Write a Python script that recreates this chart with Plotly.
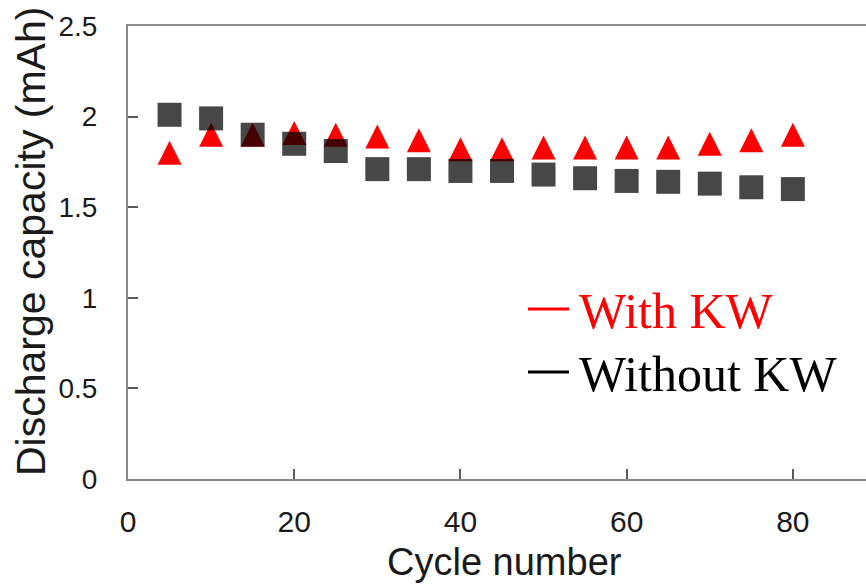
import plotly.graph_objects as go

# Cycle numbers at which discharge capacity was recorded
cycles = [5, 10, 15, 20, 25, 30, 35, 40, 45, 50, 55, 60, 65, 70, 75, 80]

# Discharge capacity (mAh)
with_kw = [1.80, 1.90, 1.90, 1.91, 1.90, 1.89, 1.87, 1.82, 1.82, 1.83, 1.83, 1.83, 1.83, 1.85, 1.87, 1.90]
without_kw = [2.01, 1.99, 1.90, 1.85, 1.81, 1.71, 1.71, 1.70, 1.70, 1.68, 1.66, 1.645, 1.64, 1.63, 1.61, 1.60]

x_ticks = [0, 20, 40, 60, 80]
y_ticks = [0, 0.5, 1, 1.5, 2, 2.5]
y_tick_text = ["0", "0.5", "1", "1.5", "2", "2.5"]

W, H = 866, 587
M_L, M_R, M_T, M_B = 128, 0, 26, 108
X_MAX = 88.8

SANS = "Liberation Sans, Arial, sans-serif"
SERIF = "Liberation Serif, Times New Roman, serif"
TEXT = "#1a1a1a"

fig = go.Figure()

# Red triangles (drawn first so the translucent squares sit on top)
fig.add_trace(go.Scatter(
    x=cycles, y=with_kw, mode="markers", name="With KW",
    marker=dict(symbol="arrow-down", angle=180, standoff=12, size=24,
                color="#FF0000", line=dict(width=0)),
    showlegend=False,
))

# Dark translucent squares
fig.add_trace(go.Scatter(
    x=cycles, y=without_kw, mode="markers", name="Without KW",
    marker=dict(symbol="square", size=24, color="rgba(0,0,0,0.72)",
                line=dict(width=0)),
    showlegend=False,
))

axis_line = "#8a8a8a"
tick_col = "#5a5a5a"

fig.update_xaxes(
    range=[0, X_MAX], tickvals=x_ticks, ticktext=[str(v) for v in x_ticks],
    showgrid=False, zeroline=False, showline=True, linecolor=axis_line,
    linewidth=2, mirror=True, ticks="inside", ticklen=10, tickwidth=2,
    tickcolor=tick_col, ticklabelstandoff=15,
    tickfont=dict(family=SANS, size=30, color=TEXT),
)

fig.update_yaxes(
    range=[0, 2.5], tickvals=y_ticks, ticktext=y_tick_text,
    showgrid=False, zeroline=False, showline=True, linecolor=axis_line,
    linewidth=2, mirror=False, ticks="inside", ticklen=10, tickwidth=2,
    tickcolor=tick_col, ticklabelstandoff=23,
    tickfont=dict(family=SANS, size=28, color=TEXT),
)

plot_w = W - M_L - M_R
plot_h = H - M_T - M_B


def px_to_paper(px, py):
    return (px - M_L) / plot_w, (H - M_B - py) / plot_h


# Axis titles
tx, ty = px_to_paper(505, 562)
fig.add_annotation(xref="paper", yref="paper", x=tx, y=ty,
                   xanchor="center", yanchor="middle", showarrow=False,
                   text="Cycle number",
                   font=dict(family=SANS, size=38, color=TEXT))
tx, ty = px_to_paper(31, 242)
fig.add_annotation(xref="paper", yref="paper", x=tx, y=ty,
                   xanchor="center", yanchor="middle", showarrow=False,
                   textangle=-90, text="Discharge capacity (mAh)",
                   font=dict(family=SANS, size=41, color=TEXT))

# Legend: short line segments followed by serif labels
legend_items = [("With KW", "#FF0000", 309), ("Without KW", "#000000", 372)]
for label, col, py in legend_items:
    x0, yl = px_to_paper(528, py)
    x1, _ = px_to_paper(569, py)
    fig.add_shape(type="line", xref="paper", yref="paper",
                  x0=x0, x1=x1, y0=yl, y1=yl,
                  line=dict(color=col, width=3))
    tx, ty = px_to_paper(577, py + 2)
    fig.add_annotation(xref="paper", yref="paper", x=tx, y=ty,
                       xanchor="left", yanchor="middle", showarrow=False,
                       text=label, font=dict(family=SERIF, size=50, color=col))

fig.update_layout(
    width=W, height=H,
    margin=dict(l=M_L, r=M_R, t=M_T, b=M_B, autoexpand=False),
    paper_bgcolor="white", plot_bgcolor="white",
    showlegend=False,
)

fig.write_html("out.html")
